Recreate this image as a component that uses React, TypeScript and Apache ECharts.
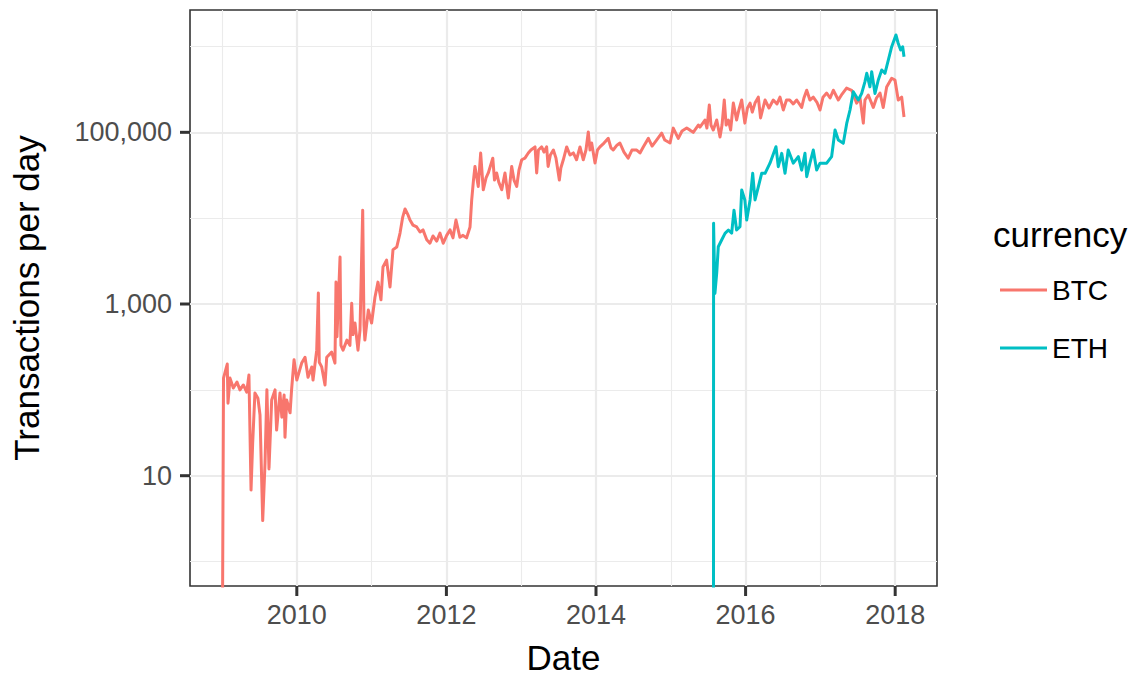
import React, { useEffect, useRef } from "react";
import * as echarts from "echarts";

// [decimal year, transactions per day]
const btcSeries: [number, number][] = [
  [2009.007, 0.3], [2009.02, 137], [2009.07, 200], [2009.08, 70], [2009.107, 137], [2009.151, 105],
  [2009.2, 123], [2009.24, 100], [2009.285, 114], [2009.33, 94], [2009.36, 149], [2009.388, 6.8],
  [2009.41, 24], [2009.44, 92], [2009.48, 80], [2009.508, 51], [2009.544, 3], [2009.575, 14],
  [2009.6, 100], [2009.628, 12], [2009.664, 76], [2009.709, 100], [2009.73, 34], [2009.775, 92],
  [2009.8, 48], [2009.83, 87], [2009.842, 28], [2009.865, 76], [2009.91, 54], [2009.93, 100],
  [2009.963, 224], [2010.0, 130], [2010.065, 205], [2010.11, 240], [2010.15, 140], [2010.2, 185],
  [2010.217, 130], [2010.266, 290], [2010.288, 1340], [2010.3, 210], [2010.333, 185], [2010.377, 114],
  [2010.4, 240], [2010.466, 275], [2010.51, 205], [2010.524, 1800], [2010.537, 415], [2010.578, 3530],
  [2010.59, 330], [2010.618, 290], [2010.67, 380], [2010.71, 330], [2010.734, 1020], [2010.75, 440],
  [2010.778, 600], [2010.818, 290], [2010.845, 500], [2010.881, 12400], [2010.898, 570], [2010.91, 380],
  [2010.956, 850], [2011.0, 600], [2011.045, 1200], [2011.085, 1800], [2011.125, 1120], [2011.152, 2700],
  [2011.2, 3250], [2011.246, 1580], [2011.286, 4300], [2011.336, 4600], [2011.38, 6700], [2011.416, 10300],
  [2011.447, 12800], [2011.487, 10900], [2011.513, 9500], [2011.553, 8300], [2011.603, 7900], [2011.647, 6900],
  [2011.687, 7300], [2011.737, 5600], [2011.78, 5100], [2011.82, 6200], [2011.87, 5400], [2011.914, 6700],
  [2011.958, 5100], [2012.004, 6300], [2012.048, 7300], [2012.088, 5900], [2012.128, 9500], [2012.18, 6000],
  [2012.222, 6300], [2012.27, 5900], [2012.316, 7900], [2012.338, 16200], [2012.362, 27800], [2012.382, 40000],
  [2012.426, 23400], [2012.458, 57400], [2012.493, 21400], [2012.53, 29500], [2012.56, 33600], [2012.62, 50000],
  [2012.643, 27800], [2012.672, 33600], [2012.7, 26300], [2012.74, 21400], [2012.783, 33600], [2012.828, 17200],
  [2012.873, 40000], [2012.904, 27800], [2012.94, 23400], [2012.97, 36300], [2013.007, 47900], [2013.05, 50000],
  [2013.095, 57400], [2013.13, 62200], [2013.185, 67600], [2013.207, 33600], [2013.23, 62200], [2013.274, 67600],
  [2013.305, 58900], [2013.34, 67600], [2013.36, 40000], [2013.39, 54400], [2013.43, 62200], [2013.465, 50000],
  [2013.51, 27800], [2013.53, 38400], [2013.563, 47900], [2013.608, 67600], [2013.652, 54400], [2013.697, 57500],
  [2013.74, 47900], [2013.786, 67600], [2013.83, 47900], [2013.866, 62200], [2013.897, 101000], [2013.92, 62200],
  [2013.942, 75000], [2013.987, 44000], [2014.02, 62200], [2014.053, 67600], [2014.107, 75000], [2014.164, 85000],
  [2014.2, 66000], [2014.23, 62200], [2014.28, 70800], [2014.32, 75000], [2014.374, 58900], [2014.43, 50000],
  [2014.48, 62200], [2014.544, 62200], [2014.588, 57500], [2014.632, 67600], [2014.7, 85000], [2014.75, 69200],
  [2014.81, 81300], [2014.878, 97700], [2014.92, 81300], [2014.99, 75000], [2015.033, 112000], [2015.1, 85000],
  [2015.15, 103500], [2015.213, 112000], [2015.257, 106000], [2015.3, 100000], [2015.368, 121600], [2015.39, 115000],
  [2015.457, 139000], [2015.483, 112000], [2015.515, 208000], [2015.537, 121600], [2015.568, 106400], [2015.614, 139000],
  [2015.658, 88000], [2015.685, 121600], [2015.715, 238000], [2015.74, 121600], [2015.77, 139000], [2015.8, 106400],
  [2015.836, 219000], [2015.88, 139000], [2015.91, 182000], [2015.948, 238000], [2015.99, 128000], [2016.025, 192000],
  [2016.06, 219000], [2016.09, 172000], [2016.126, 219000], [2016.17, 257000], [2016.2, 147000], [2016.26, 238000],
  [2016.313, 192000], [2016.37, 238000], [2016.42, 214000], [2016.46, 257000], [2016.504, 182000], [2016.547, 238000],
  [2016.59, 238000], [2016.637, 214000], [2016.683, 238000], [2016.75, 195000], [2016.78, 251000], [2016.817, 309000],
  [2016.86, 238000], [2016.905, 257000], [2016.954, 224000], [2016.995, 182000], [2017.035, 257000], [2017.084, 287000],
  [2017.13, 251000], [2017.173, 309000], [2017.24, 238000], [2017.29, 279000], [2017.35, 328000], [2017.418, 309000],
  [2017.485, 219000], [2017.53, 251000], [2017.574, 128000], [2017.596, 238000], [2017.64, 272000], [2017.707, 195000],
  [2017.75, 251000], [2017.797, 287000], [2017.84, 195000], [2017.886, 337000], [2017.953, 427000], [2017.997, 407000],
  [2018.041, 238000], [2018.087, 257000], [2018.118, 151000],
];

const ethSeries: [number, number][] = [
  [2015.571, 0.3], [2015.572, 8700], [2015.59, 1330], [2015.614, 2300], [2015.635, 4650], [2015.68, 5560],
  [2015.725, 6660], [2015.77, 7280], [2015.814, 6710], [2015.845, 12400], [2015.88, 7280], [2015.925, 7940],
  [2015.948, 21300], [2015.99, 16300], [2016.015, 9500], [2016.06, 16300], [2016.095, 33300], [2016.126, 16300],
  [2016.17, 23200], [2016.215, 33300], [2016.26, 33300], [2016.326, 43700], [2016.406, 68000], [2016.437, 39800],
  [2016.483, 56900], [2016.527, 33300], [2016.57, 62200], [2016.638, 43700], [2016.705, 52000], [2016.75, 36300],
  [2016.794, 56900], [2016.817, 30400], [2016.86, 43700], [2016.905, 62200], [2016.95, 36300], [2016.995, 43700],
  [2017.084, 43700], [2017.15, 52000], [2017.196, 106400], [2017.24, 81300], [2017.306, 74500], [2017.352, 127000],
  [2017.396, 182000], [2017.44, 297000], [2017.507, 238000], [2017.552, 284000], [2017.596, 389000], [2017.62, 487000],
  [2017.662, 339000], [2017.686, 508000], [2017.73, 284000], [2017.774, 407000], [2017.82, 532000], [2017.863, 487000],
  [2017.908, 695000], [2017.953, 993000], [2018.01, 1360000], [2018.04, 1090000], [2018.073, 910000], [2018.1, 993000],
  [2018.118, 759000],
];

const currencies = ["BTC", "ETH"];
const currencyColors = ["#F8766D", "#00BFC4"];
const xMajorTicks = [2010, 2012, 2014, 2016, 2018];
const xMinorTicks = [2009, 2011, 2013, 2015, 2017];
const yMajorTicks = [10, 1000, 100000];
const yMinorTicks = [1, 100, 10000, 1000000];
const xDomain = [2008.572, 2018.559];
const yDomain = [0.519, 2660000];

const FONT = "'Liberation Sans', Arial, Helvetica, sans-serif";
const TICK_LEN = 10;

export default function App() {
  const ref = useRef<HTMLDivElement>(null);

  useEffect(() => {
    if (!ref.current) return;
    const chart = echarts.init(ref.current, undefined, { renderer: "svg" });
    const lg = (v: number) => Math.log10(v);
    const yMin = lg(yDomain[0]);
    const yMax = lg(yDomain[1]);
    const toData = (s: [number, number][]) => s.map(([d, v]) => [d, lg(v)]);

    const hiddenLine = { show: false, onZero: false };

    // tick marks drawn through the axes' own scales
    const tickSeries = (data: number[][], horizontal: boolean) => ({
      type: "custom",
      xAxisIndex: 0,
      yAxisIndex: 0,
      silent: true,
      clip: false,
      z: 10,
      data,
      encode: { x: 0, y: 1 },
      renderItem: (_p: any, api: any) => {
        const pt = api.coord([api.value(0), api.value(1)]);
        const shape = horizontal
          ? { x1: pt[0] - TICK_LEN, y1: pt[1], x2: pt[0], y2: pt[1] }
          : { x1: pt[0], y1: pt[1], x2: pt[0], y2: pt[1] + TICK_LEN };
        return {
          type: "line",
          shape,
          style: { stroke: "#333333", lineWidth: 3 },
        };
      },
    });

    const option: any = {
      animation: false,
      backgroundColor: "#ffffff",
      textStyle: { fontFamily: FONT },
      grid: {
        left: 190,
        top: 10,
        right: 206,
        bottom: 89,
        show: true,
        borderColor: "#333333",
        borderWidth: 1.6,
        backgroundColor: "transparent",
        containLabel: false,
      },
      xAxis: [
        {
          type: "value",
          min: xDomain[0],
          max: xDomain[1],
          position: "bottom",
          axisLine: hiddenLine,
          axisTick: { show: false, customValues: xMajorTicks },
          axisLabel: {
            customValues: xMajorTicks,
            color: "#4D4D4D",
            fontSize: 27,
            fontFamily: FONT,
            margin: 15,
            formatter: (v: number) => String(v),
          },
          splitLine: { show: true, lineStyle: { color: "#EBEBEB", width: 2.2 } },
        },
        {
          type: "value",
          min: xDomain[0],
          max: xDomain[1],
          position: "top",
          axisLine: hiddenLine,
          axisTick: { show: false, customValues: xMinorTicks },
          axisLabel: { show: false },
          splitLine: { show: true, lineStyle: { color: "#EBEBEB", width: 1.1 } },
        },
      ],
      yAxis: [
        {
          type: "value",
          min: yMin,
          max: yMax,
          position: "left",
          axisLine: hiddenLine,
          axisTick: { show: false, customValues: yMajorTicks.map(lg) },
          axisLabel: {
            customValues: yMajorTicks.map(lg),
            color: "#4D4D4D",
            fontSize: 27,
            fontFamily: FONT,
            margin: 18,
            formatter: (v: number) =>
              Math.round(Math.pow(10, v)).toLocaleString("en-US"),
          },
          splitLine: { show: true, lineStyle: { color: "#EBEBEB", width: 2.2 } },
        },
        {
          type: "value",
          min: yMin,
          max: yMax,
          position: "right",
          axisLine: hiddenLine,
          axisTick: { show: false, customValues: yMinorTicks.map(lg) },
          axisLabel: { show: false },
          splitLine: { show: true, lineStyle: { color: "#EBEBEB", width: 1.1 } },
        },
      ],
      legend: {
        orient: "vertical",
        left: 1000,
        top: 276,
        padding: 0,
        itemWidth: 47,
        itemHeight: 3,
        itemGap: 30,
        itemTextGap: 11,
        icon: "rect",
        data: currencies,
        textStyle: { fontSize: 28, color: "#000000", fontFamily: FONT },
      },
      graphic: [
        {
          type: "text",
          x: 563.5,
          y: 657,
          style: {
            text: "Date",
            fontSize: 35,
            fontFamily: FONT,
            fill: "#000000",
            align: "center",
            verticalAlign: "middle",
            textAlign: "center",
            textVerticalAlign: "middle",
          },
        },
        {
          type: "text",
          x: 26,
          y: 298,
          rotation: Math.PI / 2,
          style: {
            text: "Transactions per day",
            fontSize: 35,
            fontFamily: FONT,
            fill: "#000000",
            align: "center",
            verticalAlign: "middle",
            textAlign: "center",
            textVerticalAlign: "middle",
          },
        },
        {
          type: "text",
          x: 993,
          y: 234.6,
          style: {
            text: "currency",
            fontSize: 35,
            fontFamily: FONT,
            fill: "#000000",
            align: "left",
            verticalAlign: "middle",
            textAlign: "left",
            textVerticalAlign: "middle",
          },
        },
      ],
      series: [
        ...[btcSeries, ethSeries].map((s, i) => ({
          name: currencies[i],
          type: "line",
          xAxisIndex: 0,
          yAxisIndex: 0,
          data: toData(s),
          showSymbol: false,
          symbol: "none",
          clip: true,
          lineStyle: { color: currencyColors[i], width: 3, join: "round" },
          itemStyle: { color: currencyColors[i] },
          z: 3 + i,
        })),
        tickSeries(xMajorTicks.map((v) => [v, yMin]), false),
        tickSeries(yMajorTicks.map((v) => [xDomain[0], lg(v)]), true),
      ],
    };

    chart.setOption(option);
    return () => chart.dispose();
  }, []);

  return (
    <div
      ref={ref}
      style={{ position: "fixed", left: 0, top: 0, width: 1143, height: 675 }}
    />
  );
}
